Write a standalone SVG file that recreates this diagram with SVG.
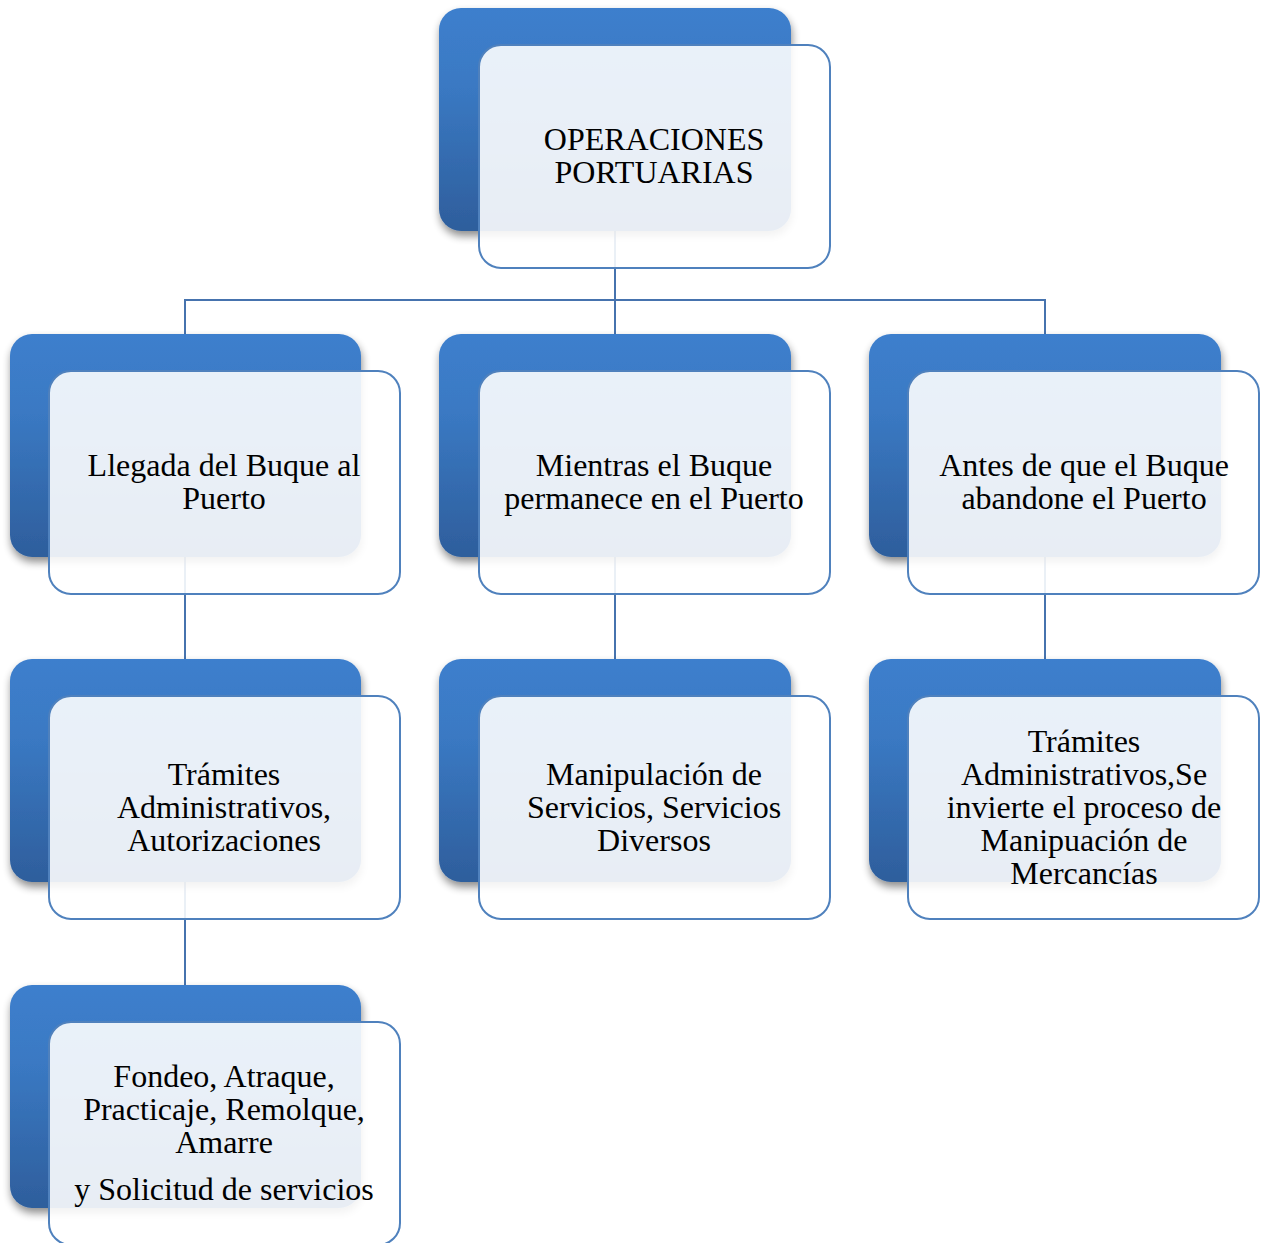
<svg xmlns="http://www.w3.org/2000/svg" width="1263" height="1243" viewBox="0 0 1263 1243">
<defs>
<linearGradient id="bg" x1="0" y1="0" x2="0" y2="1">
<stop offset="0" stop-color="#3d7fcd"/>
<stop offset="0.35" stop-color="#3a79c3"/>
<stop offset="1" stop-color="#2e5e9c"/>
</linearGradient>
<filter id="sh" x="-10%" y="-10%" width="125%" height="130%">
<feGaussianBlur in="SourceAlpha" stdDeviation="4"/>
<feOffset dx="1" dy="5" result="b"/>
<feComponentTransfer><feFuncA type="linear" slope="0.45"/></feComponentTransfer>
<feMerge><feMergeNode/><feMergeNode in="SourceGraphic"/></feMerge>
</filter>
</defs>
<style>
.back{fill:url(#bg);filter:url(#sh)}
.front{fill:#ffffff;fill-opacity:0.89;stroke:#4f81bd;stroke-width:2}
.conn{fill:none;stroke:#4673ae;stroke-width:2}
text{font-family:"Liberation Serif","Times New Roman",serif;font-size:32px;fill:#000;text-anchor:middle}
</style>
<rect width="1263" height="1243" fill="#ffffff"/>
<g id="connectors">
<path class="conn" d="M615,231 V300 M185,334 V300 H1045 V334 M615,300 V334"/>
<path class="conn" d="M185,557 V659 M615,557 V659 M1045,557 V659"/>
<path class="conn" d="M185,882 V985"/>
</g>
<g id="n0">
<rect class="back" x="439" y="8" width="352" height="223" rx="22"/>
<rect class="front" x="479" y="45" width="351" height="223" rx="22"/>
<text x="654" y="150">OPERACIONES</text>
<text x="654" y="183">PORTUARIAS</text>
</g>
<g id="n1">
<rect class="back" x="10" y="334" width="351" height="223" rx="22"/>
<rect class="front" x="49" y="371" width="351" height="223" rx="22"/>
<text x="224" y="476">Llegada del Buque al</text>
<text x="224" y="509">Puerto</text>
</g>
<g id="n2">
<rect class="back" x="439" y="334" width="352" height="223" rx="22"/>
<rect class="front" x="479" y="371" width="351" height="223" rx="22"/>
<text x="654" y="476">Mientras el Buque</text>
<text x="654" y="509">permanece en el Puerto</text>
</g>
<g id="n3">
<rect class="back" x="869" y="334" width="352" height="223" rx="22"/>
<rect class="front" x="908" y="371" width="351" height="223" rx="22"/>
<text x="1084" y="476">Antes de que el Buque</text>
<text x="1084" y="509">abandone el Puerto</text>
</g>
<g id="n4">
<rect class="back" x="10" y="659" width="351" height="223" rx="22"/>
<rect class="front" x="49" y="696" width="351" height="223" rx="22"/>
<text x="224" y="785">Trámites</text>
<text x="224" y="818">Administrativos,</text>
<text x="224" y="851">Autorizaciones</text>
</g>
<g id="n5">
<rect class="back" x="439" y="659" width="352" height="223" rx="22"/>
<rect class="front" x="479" y="696" width="351" height="223" rx="22"/>
<text x="654" y="785">Manipulación de</text>
<text x="654" y="818">Servicios, Servicios</text>
<text x="654" y="851">Diversos</text>
</g>
<g id="n6">
<rect class="back" x="869" y="659" width="352" height="223" rx="22"/>
<rect class="front" x="908" y="696" width="351" height="223" rx="22"/>
<text x="1084" y="752">Trámites</text>
<text x="1084" y="785">Administrativos,Se</text>
<text x="1084" y="818">invierte el proceso de</text>
<text x="1084" y="851">Manipuación de</text>
<text x="1084" y="884">Mercancías</text>
</g>
<g id="n7">
<rect class="back" x="10" y="985" width="351" height="223" rx="22"/>
<rect class="front" x="49" y="1022" width="351" height="223" rx="22"/>
<text x="224" y="1087">Fondeo, Atraque,</text>
<text x="224" y="1120">Practicaje, Remolque,</text>
<text x="224" y="1153">Amarre</text>
<text x="224" y="1200">y Solicitud de servicios</text>
</g>
</svg>
